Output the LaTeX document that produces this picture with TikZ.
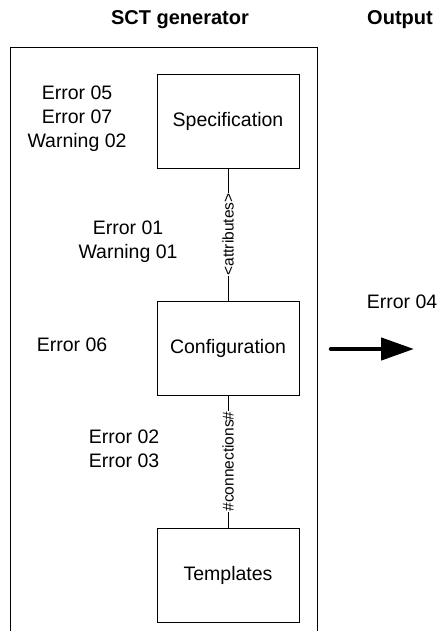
\documentclass[tikz,border=0pt]{standalone}
\usepackage{fontspec}
\setmainfont{Liberation Sans}
\usetikzlibrary{arrows.meta}

\tikzset{
  block/.style = {draw, line width=0.9pt, minimum width=142pt, minimum height=94pt, font=\fontsize{19.5}{24}\selectfont},
  msg/.style   = {align=center, font=\fontsize{19.5}{24}\selectfont},
  head/.style  = {font=\bfseries\fontsize{20}{24}\selectfont},
  link/.style  = {fill=white, inner sep=1pt, rotate=90, font=\fontsize{15.5}{18}\selectfont}
}

\begin{document}
\begin{tikzpicture}[x=1pt, y=-1pt]
            \useasboundingbox (0,0) rectangle (438,631);
            % headings
            \node[head, anchor=base] (gen) at (180,25) {SCT generator};
            \node[head, anchor=base] (out) at (400,25) {Output};
            % generator frame
            \draw[line width=0.9pt] (10,631) -- (10,47) -- (317,47) -- (317,631);
            % blocks
            \node[block] (spec) at (228,121) {Specification};
            \node[block] (conf) at (228,348) {Configuration};
            \node[block] (tmpl) at (228,575) {Templates};
            \draw[line width=0.9pt] (spec) -- (conf) node[midway, link] {<attributes>};
            \draw[line width=0.9pt] (conf) -- (tmpl) node[midway, link] {\#connections\#};
            % messages
            \node[msg] (mspec) at (77,119) {Error 05\\Error 07\\Warning 02};
            \node[msg] (mattr) at (128,242) {Error 01\\Warning 01};
            \node[msg] (mconf) at (72,344.5) {Error 06};
            \node[msg] (mconn) at (124,448.5) {Error 02\\Error 03};
            \node[msg] (mout) at (402,302) {Error 04};
            % output arrow
            \coordinate (a0) at (331,349);
            \coordinate (a1) at (414,349);
            \draw[line width=4.5pt, line cap=round, -{Triangle[length=33pt, width=22pt]}] (a0) -- (a1);
        \end{tikzpicture}
\end{document}
